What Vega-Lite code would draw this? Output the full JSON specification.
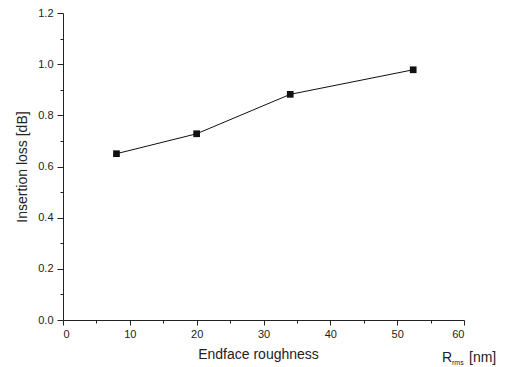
{
  "$schema": "https://vega.github.io/schema/vega-lite/v6.json",
  "autosize": "none",
  "width": 401,
  "height": 307,
  "padding": {"left": 63, "top": 13, "right": 43, "bottom": 47},
  "background": "white",
  "config": {
    "view": {"stroke": null},
    "font": "Liberation Sans",
    "axis": {"labelFont": "Liberation Sans", "titleFont": "Liberation Sans", "labelColor": "#222", "titleColor": "#222", "domainColor": "#222", "tickColor": "#222", "grid": false}
  },
  "data": {"values": [
    {"x": 8, "y": 0.65},
    {"x": 20, "y": 0.728},
    {"x": 34, "y": 0.882},
    {"x": 52.4, "y": 0.978}
  ]},
  "resolve": {"axis": {"x": "independent", "y": "independent"}},
  "layer": [
    {
      "mark": {"type": "line", "color": "#111", "strokeWidth": 1},
      "encoding": {
        "x": {"field": "x", "type": "quantitative", "scale": {"domain": [0, 60], "nice": false},
          "axis": {"orient": "bottom", "values": [0,10,20,30,40,50,60], "tickSize": 5, "labelFontSize": 11, "labelPadding": 3, "title": "Endface roughness", "titleFontSize": 14, "titleFontWeight": "normal", "titlePadding": 8, "titleX": 195}},
        "y": {"field": "y", "type": "quantitative", "scale": {"domain": [0, 1.2], "nice": false},
          "axis": {"orient": "left", "values": [0,0.2,0.4,0.6,0.8,1.0,1.2], "format": ".1f", "tickSize": 6, "labelFontSize": 11, "labelPadding": 4, "title": "Insertion loss [dB]", "titleFontSize": 14, "titleFontWeight": "normal", "titlePadding": 8}}
      }
    },
    {
      "mark": {"type": "square", "color": "#111", "opacity": 1, "size": 45},
      "encoding": {
        "x": {"field": "x", "type": "quantitative", "scale": {"domain": [0, 60], "nice": false},
          "axis": {"orient": "bottom", "values": [5,15,25,35,45,55], "labels": false, "tickSize": 3, "domain": false, "title": null}},
        "y": {"field": "y", "type": "quantitative", "scale": {"domain": [0, 1.2], "nice": false},
          "axis": {"orient": "left", "values": [0.1,0.3,0.5,0.7,0.9,1.1], "labels": false, "tickSize": 3, "domain": false, "title": null}}
      }
    },
    {
      "data": {"values": [{"x": 60, "y": 0, "t": "R"}]},
      "mark": {"type": "text", "fontSize": 14, "color": "#222", "align": "left", "baseline": "alphabetic", "dx": -22, "dy": 42},
      "encoding": {
        "x": {"field": "x", "type": "quantitative", "axis": null},
        "y": {"field": "y", "type": "quantitative", "axis": null},
        "text": {"field": "t"}
      }
    },
    {
      "data": {"values": [{"x": 60, "y": 0, "t": "rms"}]},
      "mark": {"type": "text", "fontSize": 7, "color": "#222", "align": "left", "baseline": "alphabetic", "dx": -12, "dy": 45},
      "encoding": {
        "x": {"field": "x", "type": "quantitative", "axis": null},
        "y": {"field": "y", "type": "quantitative", "axis": null},
        "text": {"field": "t"}
      }
    },
    {
      "data": {"values": [{"x": 60, "y": 0, "t": "[nm]"}]},
      "mark": {"type": "text", "fontSize": 14, "color": "#222", "align": "left", "baseline": "alphabetic", "dx": 5, "dy": 42},
      "encoding": {
        "x": {"field": "x", "type": "quantitative", "axis": null},
        "y": {"field": "y", "type": "quantitative", "axis": null},
        "text": {"field": "t"}
      }
    }
  ]
}
